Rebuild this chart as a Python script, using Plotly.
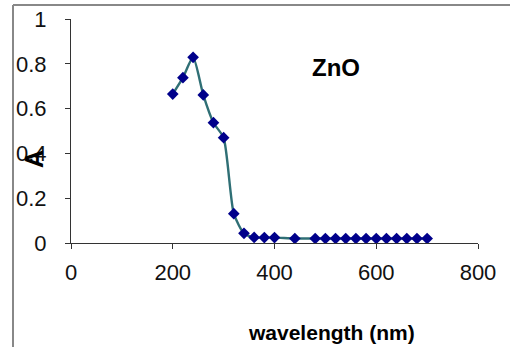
import plotly.graph_objects as go

# Absorbance spectrum of ZnO
wavelength = [200, 220, 240, 260, 280, 300, 320, 340, 360, 380, 400, 440,
              480, 500, 520, 540, 560, 580, 600, 620, 640, 660, 680, 700]
absorbance = [0.665, 0.738, 0.829, 0.661, 0.537, 0.470, 0.131, 0.043, 0.025,
              0.024, 0.024, 0.020, 0.020, 0.020, 0.020, 0.020, 0.020, 0.020,
              0.020, 0.020, 0.020, 0.020, 0.020, 0.020]
x_ticks = [0, 200, 400, 600, 800]
y_ticks = [0, 0.2, 0.4, 0.6, 0.8, 1]

W, H = 510, 347
ML, MR, MT, MB = 71, 32, 19, 104
PW, PH = W - ML - MR, H - MT - MB


def px(xp):
    return (xp - ML) / PW


def py(yp):
    return (H - MB - yp) / PH


FONT = "Liberation Sans, Arial, sans-serif"

fig = go.Figure()
fig.add_trace(go.Scatter(
    x=wavelength, y=absorbance, mode="lines+markers",
    line=dict(color="#2F6F75", width=2.4, shape="spline", smoothing=0.6),
    marker=dict(symbol="diamond", size=9, color="#00008B"),
    showlegend=False,
))

axis_common = dict(
    showgrid=False, zeroline=False, showline=True, linecolor="#333333",
    linewidth=1, ticks="outside", ticklen=5, tickcolor="#333333",
    automargin=False,
    tickfont=dict(family=FONT, size=22, color="#111111"),
)
fig.update_xaxes(range=[0, 800], tickvals=x_ticks, ticklabelstandoff=5,
                 **axis_common)
fig.update_yaxes(range=[0, 1], tickvals=y_ticks, ticklabelstandoff=14,
                 **axis_common)

fig.add_annotation(text="<b>ZnO</b>", x=px(336), y=py(67), xref="paper", yref="paper",
                   showarrow=False, font=dict(family=FONT, size=24, color="#000"),
                   xanchor="center", yanchor="middle")
fig.add_annotation(text="<b>A</b>", x=px(34), y=py(159), xref="paper", yref="paper",
                   showarrow=False, textangle=-90,
                   font=dict(family=FONT, size=25, color="#000"),
                   xanchor="center", yanchor="middle")
fig.add_annotation(text="<b>wavelength (nm)</b>", x=px(331), y=py(332),
                   xref="paper", yref="paper", showarrow=False,
                   font=dict(family=FONT, size=21, color="#000"),
                   xanchor="center", yanchor="middle")

# outer frame edges (top and left)
fig.add_shape(type="line", xref="paper", yref="paper",
              x0=px(13), y0=py(5), x1=px(W + 5), y1=py(5),
              line=dict(color="#888888", width=2))
fig.add_shape(type="line", xref="paper", yref="paper",
              x0=px(13), y0=py(5), x1=px(13), y1=py(H + 5),
              line=dict(color="#888888", width=2))

fig.update_layout(
    width=W, height=H, margin=dict(l=ML, r=MR, t=MT, b=MB),
    paper_bgcolor="white", plot_bgcolor="white",
)
fig.write_html("out.html")
